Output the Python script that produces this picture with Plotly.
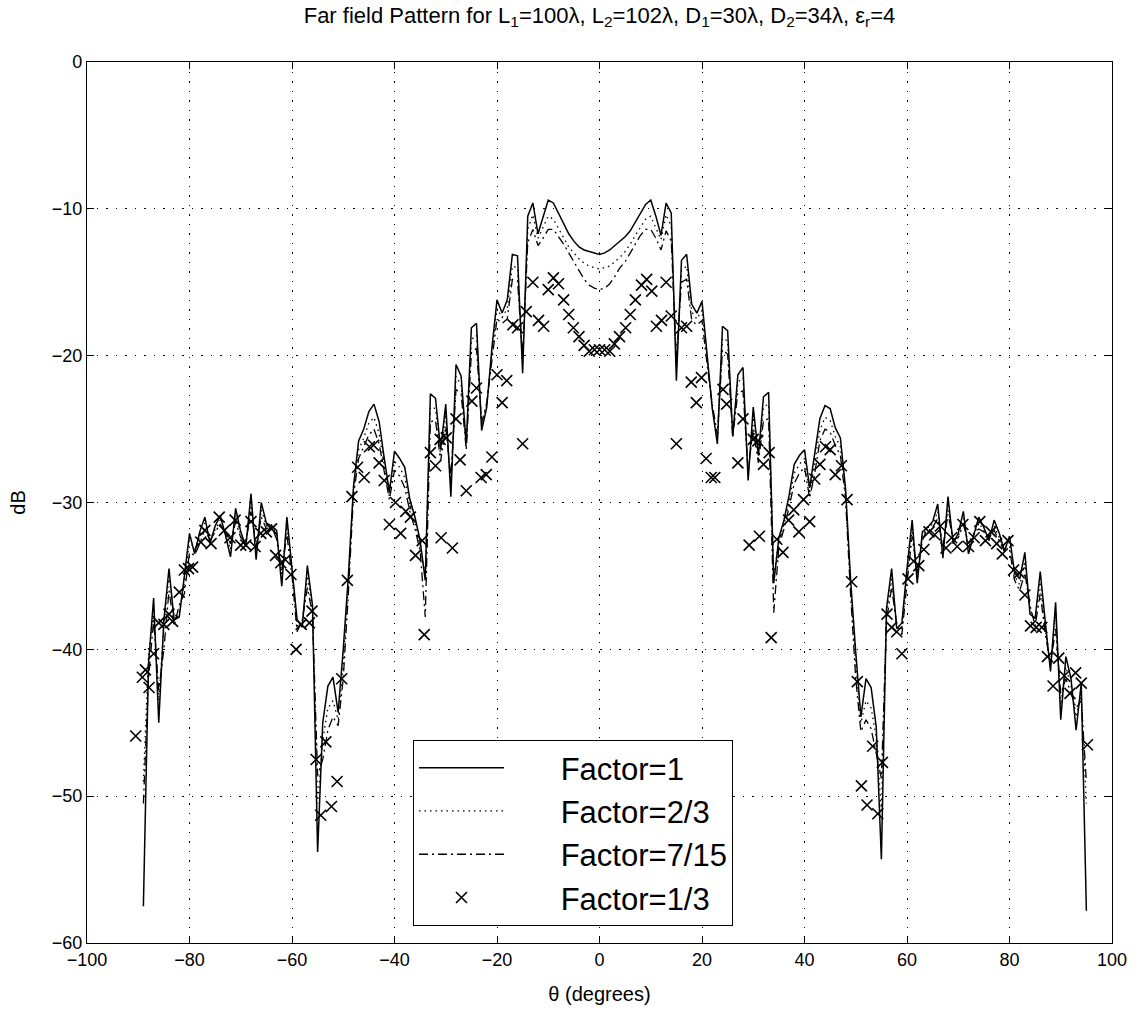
import plotly.graph_objects as go

theta = list(range(-89, 96))

factor_1 = [
    -57.5, -41.0, -36.5, -45.0, -38.0, -34.5, -38.0, -37.8, -35.0, -32.1,
    -33.5, -32.0, -31.0, -32.8, -31.6, -30.9, -32.2, -33.7, -30.4, -32.0,
    -33.0, -29.4, -33.9, -30.0, -31.4, -31.6, -31.9, -35.7, -31.0, -34.4,
    -38.0, -38.5, -34.3, -37.0, -53.8, -45.0, -42.5, -41.9, -44.3, -40.0,
    -35.0, -28.9, -25.8, -25.0, -23.8, -23.3, -24.5, -27.0, -29.3, -26.5,
    -27.0, -27.6, -29.8, -31.0, -32.6, -35.3, -22.6, -22.9, -26.4, -23.3,
    -29.6, -20.6, -21.4, -26.0, -18.1, -17.8, -25.1, -23.5, -19.5, -16.2,
    -17.1, -16.2, -13.1, -13.2, -21.2, -10.5, -9.6, -11.7, -10.5, -9.4,
    -9.6, -10.3, -11.0, -11.7, -12.2, -12.6, -12.8, -12.9, -13.0, -13.1,
    -13.0, -12.8, -12.5, -12.2, -11.9, -11.5, -10.9, -10.3, -9.7, -9.4,
    -10.5, -11.8, -9.6, -10.3, -21.7, -13.5, -13.1, -16.5, -17.1, -16.3,
    -20.0, -23.6, -26.0, -18.0, -18.3, -25.5, -21.3, -20.8, -28.5, -23.5,
    -26.8, -22.8, -22.5, -35.5, -32.4, -31.2, -29.5, -27.4, -26.8, -26.4,
    -29.0, -26.8, -24.3, -23.4, -23.6, -24.9, -25.6, -29.0, -35.3, -40.2,
    -44.6, -42.0, -42.6, -45.3, -54.3, -37.2, -34.5, -38.6, -38.2, -34.5,
    -31.2, -35.5, -32.0, -31.7, -31.3, -30.1, -33.8, -29.6, -32.8, -32.1,
    -30.6, -33.5, -32.3, -31.0, -31.7, -32.6, -31.2, -32.1, -33.3, -32.3,
    -34.8, -35.2, -33.4, -37.6, -37.9, -34.7, -38.2, -41.5, -36.8, -44.8,
    -40.5, -42.0, -45.5, -42.3, -57.8,
]

factor_2_3 = [
    -49.0, -40.5, -37.2, -43.5, -38.5, -35.0, -37.8, -37.5, -35.5, -32.6,
    -33.2, -32.3, -31.4, -32.5, -31.8, -31.2, -32.0, -33.2, -30.9, -32.2,
    -32.8, -30.0, -33.4, -30.5, -31.6, -31.5, -32.2, -35.0, -31.6, -34.6,
    -38.4, -38.2, -35.0, -37.4, -50.5, -46.2, -44.0, -43.5, -44.8, -41.0,
    -35.6, -29.2, -26.4, -25.6, -24.6, -24.2, -25.3, -27.5, -29.6, -27.2,
    -27.6, -28.3, -30.2, -31.4, -32.9, -35.0, -23.5, -23.6, -26.8, -24.0,
    -29.0, -21.4, -22.0, -26.2, -18.9, -18.6, -24.8, -23.4, -19.8, -16.8,
    -17.4, -16.8, -13.9, -14.0, -20.6, -11.4, -10.4, -12.0, -11.2, -10.5,
    -10.7, -11.3, -12.0, -12.6, -13.0, -13.4, -13.7, -13.9, -14.0, -14.1,
    -14.0, -13.9, -13.6, -13.3, -12.9, -12.4, -11.8, -11.2, -10.7, -10.5,
    -11.3, -12.1, -10.4, -11.2, -21.0, -14.2, -13.9, -17.0, -17.5, -16.9,
    -20.2, -23.5, -25.7, -18.8, -19.0, -25.5, -21.8, -21.5, -28.2, -24.2,
    -27.0, -23.5, -23.3, -35.0, -32.6, -31.5, -29.9, -28.0, -27.4, -27.0,
    -29.4, -27.4, -25.1, -24.2, -24.4, -25.5, -26.2, -29.4, -35.8, -41.0,
    -45.0, -43.5, -44.0, -46.0, -51.0, -37.6, -35.2, -38.5, -38.6, -35.0,
    -31.8, -35.2, -32.3, -31.6, -31.5, -30.6, -33.4, -30.2, -32.6, -32.3,
    -31.1, -33.1, -32.2, -31.4, -31.9, -32.4, -31.6, -32.4, -33.2, -32.7,
    -35.0, -35.6, -34.0, -37.3, -38.0, -35.4, -38.6, -41.0, -37.6, -43.8,
    -41.2, -42.5, -44.6, -43.0, -50.5,
]

factor_7_15 = [
    -50.5, -42.0, -38.0, -42.8, -40.0, -36.0, -38.4, -37.0, -36.2, -33.4,
    -33.6, -32.8, -31.8, -32.6, -32.0, -31.5, -32.1, -32.8, -31.3, -32.4,
    -32.7, -30.6, -33.0, -31.0, -31.8, -31.6, -32.5, -34.6, -32.2, -35.0,
    -38.8, -38.0, -35.8, -37.6, -48.6, -47.5, -45.5, -44.6, -45.2, -42.0,
    -36.2, -29.5, -27.0, -26.2, -25.4, -25.0, -26.0, -27.9, -29.8, -27.8,
    -28.2, -29.0, -30.6, -31.8, -33.3, -37.8, -24.5, -24.4, -27.2, -24.8,
    -28.3, -22.3, -22.6, -26.4, -19.8, -19.5, -24.6, -23.2, -20.2, -17.5,
    -17.8, -17.5, -14.8, -14.9, -20.0, -12.3, -11.4, -12.5, -12.0, -11.4,
    -11.4, -11.9, -12.4, -13.0, -13.6, -14.3, -14.8, -15.2, -15.4, -15.5,
    -15.4, -15.1, -14.6, -14.0, -13.6, -13.0, -12.4, -11.8, -11.4, -11.4,
    -12.0, -12.8, -11.5, -12.2, -20.2, -15.0, -14.8, -17.6, -17.9, -17.6,
    -20.6, -23.3, -25.4, -19.6, -19.9, -25.5, -22.5, -22.4, -27.8, -25.0,
    -27.3, -24.4, -24.3, -37.5, -33.0, -31.8, -30.3, -28.7, -28.0, -27.6,
    -29.7, -28.0, -25.8, -25.0, -25.2, -26.1, -26.8, -29.7, -36.3, -42.0,
    -45.6, -44.8, -45.4, -47.2, -48.8, -38.0, -35.8, -38.3, -39.0, -35.5,
    -32.3, -34.8, -32.6, -31.7, -31.7, -31.1, -33.0, -30.8, -32.5, -32.4,
    -31.5, -32.8, -32.1, -31.8, -32.0, -32.3, -31.9, -32.6, -33.3, -33.2,
    -35.3, -36.0, -34.8, -37.0, -38.4, -36.2, -39.0, -41.0, -38.6, -43.0,
    -42.0, -43.0, -44.0, -43.5, -49.0,
]

marker_theta = [
    -90.5, -89.2, -88.6, -87.9, -87.0, -86.0, -85.0, -84.0, -83.3, -82.0,
    -81.0, -80.2, -79.4, -77.8, -77.0, -75.8, -74.2, -73.2, -72.1, -71.1,
    -70.0, -69.0, -68.0, -67.2, -66.1, -65.0, -64.0, -63.2, -62.2, -61.3,
    -60.2, -59.2, -58.2, -56.6, -56.1, -55.3, -54.4, -53.4, -52.3, -51.2,
    -50.3, -49.2, -48.3, -47.2, -45.9, -44.9, -44.1, -43.0, -42.0, -41.0,
    -39.8, -38.8, -37.8, -36.9, -35.9, -34.6, -34.2, -33.0, -32.0, -31.1,
    -30.9, -29.9, -28.7, -28.0, -27.2, -26.0, -24.9, -24.0, -23.1, -22.1,
    -21.0, -20.0, -19.0, -18.1, -16.9, -16.0, -15.0, -14.3, -13.0, -11.9,
    -10.9, -10.0, -9.0, -8.0, -7.0, -6.0, -5.1, -4.0, -3.0, -2.0,
    -1.0, 0.0,
    1.0, 2.0, 2.9, 3.9, 5.1, 6.0, 7.0, 8.2, 9.2, 10.2,
    11.1, 12.1, 13.0, 14.0, 15.0, 16.0, 17.0, 17.9, 18.9, 19.9,
    20.8, 21.8, 22.5, 24.1, 24.8, 27.0, 28.0, 29.2, 30.0, 30.9,
    31.2, 32.0, 33.1, 33.5, 34.6, 35.8, 36.9, 37.9, 38.9, 39.8,
    41.0, 42.0, 43.0, 44.1, 45.0, 46.0, 47.2, 48.3, 49.2, 50.3,
    51.1, 52.2, 53.3, 54.3, 55.2, 56.1, 57.0, 58.0, 59.0, 60.2,
    61.3, 62.3, 63.3, 64.3, 65.4, 66.5, 67.6, 68.7, 69.8, 70.9,
    72.0, 73.1, 74.2, 75.3, 76.4, 77.5, 78.6, 79.7, 80.8, 81.9,
    83.0, 84.1, 85.2, 86.3, 87.4, 88.5, 89.6, 90.7, 91.8, 92.9,
    94.0, 95.2,
]

marker_db = [
    -45.9, -41.9, -41.4, -42.6, -40.3, -38.2, -38.3, -37.6, -38.1, -36.1,
    -34.6, -34.5, -34.4, -32.7, -31.9, -32.8, -31.0, -31.9, -32.4, -31.2,
    -32.9, -32.9, -31.3, -33.0, -32.1, -32.0, -31.8, -33.6, -34.1, -33.9,
    -34.9, -40.0, -38.3, -38.2, -37.4, -47.5, -51.3, -46.3, -50.7, -49.0,
    -42.0, -35.3, -29.6, -27.6, -28.3, -26.2, -26.1, -27.3, -28.5, -31.5,
    -30.0, -32.1, -30.6, -31.0, -33.6, -32.6, -39.0, -26.6, -27.5, -25.7,
    -32.4, -25.6, -33.1, -24.3, -27.1, -29.2, -23.1, -22.2, -28.3, -28.1,
    -26.9, -21.3, -23.2, -21.7, -17.9, -18.1, -26.0, -17.0, -15.0, -17.6,
    -18.0, -15.5, -14.7, -15.1, -16.2, -17.2, -18.1, -18.7, -19.3, -19.7,
    -19.6, -19.6,
    -19.6, -19.7, -19.2, -18.7, -18.1, -17.2, -16.2, -15.2, -14.8, -15.6,
    -18.0, -17.6, -15.0, -17.3, -26.0, -18.1, -18.0, -21.8, -23.2, -21.5,
    -27.0, -28.3, -28.3, -22.3, -23.3, -27.3, -24.3, -32.9, -25.7, -25.8,
    -32.3, -27.4, -26.6, -39.2, -32.5, -33.4, -31.2, -30.5, -32.0, -29.8,
    -31.3, -28.4, -27.4, -26.2, -26.4, -28.1, -27.5, -29.8, -35.4, -42.2,
    -49.3, -50.6, -46.6, -51.2, -47.7, -37.6, -38.5, -38.8, -40.3, -35.2,
    -34.0, -34.3, -33.2, -32.0, -32.2, -31.6, -33.1, -32.4, -33.0, -31.5,
    -33.0, -32.4, -31.3, -32.6, -32.0, -32.8, -33.5, -32.6, -34.6, -34.8,
    -36.3, -38.4, -38.5, -38.5, -40.5, -42.5, -40.6, -41.8, -43.0, -41.6,
    -42.3, -46.5,
]

series_names = ["Factor=1", "Factor=2/3", "Factor=7/15", "Factor=1/3"]

x_ticks = [-100, -80, -60, -40, -20, 0, 20, 40, 60, 80, 100]
y_ticks = [-60, -50, -40, -30, -20, -10, 0]

FONT = "Liberation Sans, Arial, Helvetica, sans-serif"
PAD = "\u00a0" * 6

fig = go.Figure()
fig.add_trace(go.Scatter(x=theta, y=factor_1, mode="lines", name=PAD + series_names[0],
                         line=dict(color="black", width=1.5, dash="solid")))
fig.add_trace(go.Scatter(x=theta, y=factor_2_3, mode="lines", name=PAD + series_names[1],
                         line=dict(color="black", width=1.3, dash="1.5px,4px")))
fig.add_trace(go.Scatter(x=theta, y=factor_7_15, mode="lines", name=PAD + series_names[2],
                         line=dict(color="black", width=1.3, dash="9px,4px,2px,4px")))
fig.add_trace(go.Scatter(x=marker_theta, y=marker_db, mode="markers", name=PAD + series_names[3],
                         marker=dict(symbol="x-thin", size=11, color="black",
                                     line=dict(color="black", width=1.6))))

axis_common = dict(
    showline=True, linecolor="black", linewidth=1.2, mirror="ticks",
    ticks="inside", ticklen=7, tickcolor="black", tickwidth=1,
    showgrid=True, gridcolor="black", gridwidth=1, griddash="1.5px,8px",
    zeroline=False, tickfont=dict(family=FONT, size=18, color="black"),
)

fig.update_layout(
    width=1139, height=1019,
    margin=dict(l=87, r=27, t=62, b=76),
    paper_bgcolor="white", plot_bgcolor="white",
    font=dict(family=FONT, color="black"),
    title=dict(
        text="Far field Pattern for L<sub>1</sub>=100λ, L<sub>2</sub>=102λ, "
             "D<sub>1</sub>=30λ, D<sub>2</sub>=34λ, ε<sub>r</sub>=4",
        x=0.5, xref="paper", xanchor="center",
        y=1 - 15 / 1019, yref="container", yanchor="middle",
        font=dict(family=FONT, size=22, color="black"),
    ),
    xaxis=dict(range=[-100, 100], tickvals=x_ticks,
               title=dict(text="θ (degrees)", font=dict(family=FONT, size=20), standoff=18),
               **axis_common),
    yaxis=dict(range=[-60, 0], tickvals=y_ticks,
               title=dict(text="dB", font=dict(family=FONT, size=20), standoff=20),
               **axis_common),
    legend=dict(
        x=(413 - 87) / 1025, y=(943 - 740) / 881, xanchor="left", yanchor="top",
        bgcolor="white", bordercolor="black", borderwidth=1,
        font=dict(family=FONT, size=31, color="black"),
        itemwidth=85, tracegroupgap=0,
    ),
)

fig.write_html("out.html")
